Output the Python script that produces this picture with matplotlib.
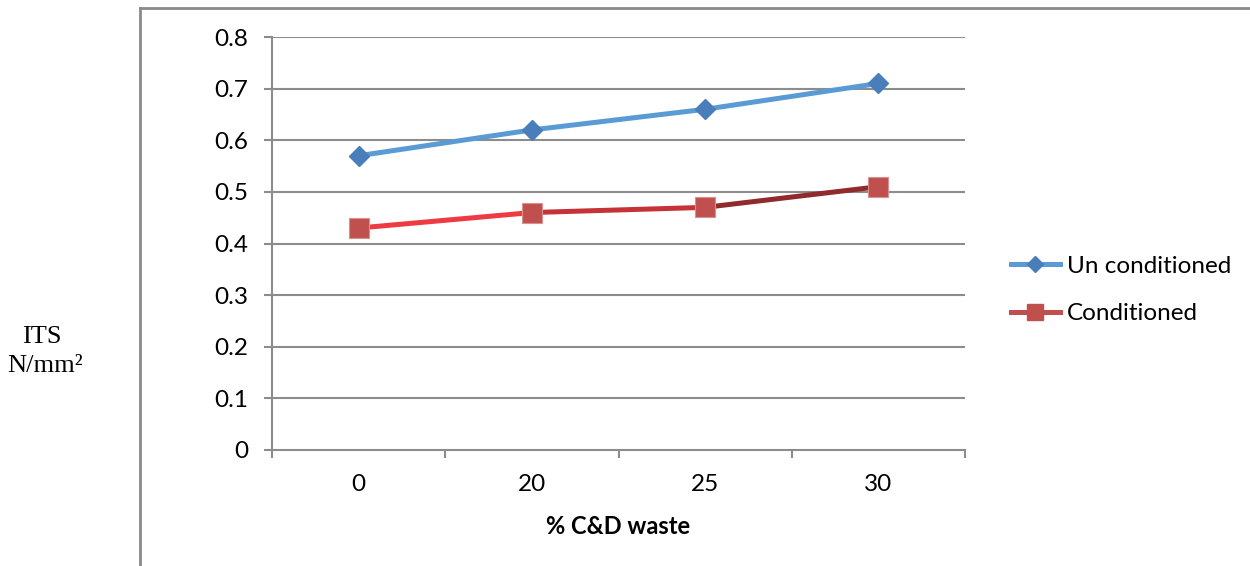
import matplotlib
matplotlib.use("Agg")
import matplotlib.pyplot as plt
from matplotlib.lines import Line2D
from matplotlib.collections import LineCollection
import numpy as np

# Data
categories = ["0", "20", "25", "30"]
unconditioned = [0.57, 0.62, 0.66, 0.71]
conditioned = [0.43, 0.46, 0.47, 0.51]
y_ticks = [0, 0.1, 0.2, 0.3, 0.4, 0.5, 0.6, 0.7, 0.8]
series_names = ["Un conditioned", "Conditioned"]

W, H = 1250, 566
fig = plt.figure(figsize=(W / 100, H / 100), dpi=100)
plt.rcParams["font.family"] = ["Lato", "DejaVu Sans"]

FS = 17.5

ax = fig.add_axes([272 / W, 1 - 450 / H, (965 - 272) / W, (450 - 37) / H])

x = np.arange(len(categories))
grid_c = "#8C8C8C"

# horizontal gridlines
for v in y_ticks[1:]:
    ax.axhline(v, color=grid_c, lw=1.5, zorder=1)

# Un conditioned series
ax.plot(x, unconditioned, color="#5B9BD5", lw=3.6, solid_capstyle="round", zorder=3)
ax.plot(x, unconditioned, ls="none", marker="D", ms=10.5, color="#4A7EBB",
        mec="#4A7EBB", zorder=4)

# Conditioned series: line shades from red to dark red
seg_colors = ["#EE3A42", "#C53237", "#912A2D"]
segs = [[(x[i], conditioned[i]), (x[i + 1], conditioned[i + 1])] for i in range(len(x) - 1)]
lc = LineCollection(segs, colors=seg_colors, linewidths=3.6, capstyle="round", zorder=3)
ax.add_collection(lc)
ax.plot(x, conditioned, ls="none", marker="s", ms=14, color="#C0504D",
        mec="#D9908E", mew=0.8, zorder=4)

ax.set_xlim(-0.5, len(categories) - 0.5)
ax.set_ylim(0, 0.8)

ax.set_yticks(y_ticks)
ax.set_yticklabels(["0" if v == 0 else f"{v:.1f}" for v in y_ticks])
ax.set_xticks(x)
ax.set_xticklabels(categories)
ax.set_xticks(np.arange(len(categories) + 1) - 0.5, minor=True)

ax.tick_params(axis="y", length=6, width=1.5, color=grid_c, pad=11, labelsize=FS,
               labelcolor="black")
ax.tick_params(axis="x", which="major", length=0, pad=17, labelsize=FS, labelcolor="black")
ax.tick_params(axis="x", which="minor", length=6, width=1.5, color=grid_c)

for s in ["top", "right"]:
    ax.spines[s].set_visible(False)
for s in ["left", "bottom"]:
    ax.spines[s].set_color(grid_c)
    ax.spines[s].set_linewidth(1.5)

fig.text(618 / W, 1 - 526 / H, "% C&D waste", ha="center", va="center",
         fontsize=17, fontweight="bold")

# y-axis title
fig.text(42 / W, 1 - 337 / H, "ITS", ha="center", va="center",
         fontsize=19, family="Liberation Serif")
fig.text(45 / W, 1 - 366 / H, "N/mm²", ha="center", va="center",
         fontsize=19, family="Liberation Serif")

# legend
handles = [
    Line2D([], [], color="#5B9BD5", lw=3.6, marker="D", ms=8, mfc="#4A7EBB", mec="#4A7EBB"),
    Line2D([], [], color="#C0504D", lw=3.6, marker="s", ms=11, mfc="#C0504D", mec="#C0504D"),
]
fig.legend(handles, series_names, loc="center left",
           bbox_to_anchor=(999 / W, 1 - 290 / H), frameon=False, fontsize=FS,
           handlelength=2.0, handletextpad=0.3, labelspacing=1.1, borderpad=0)

# outer chart frame
frame_c = "#8A8A8A"
fig.add_artist(Line2D([140 / W, 140 / W], [0, 1 - 8 / H], color=frame_c, lw=2,
                      transform=fig.transFigure))
fig.add_artist(Line2D([140 / W, 1], [1 - 8 / H, 1 - 8 / H], color=frame_c, lw=2,
                      transform=fig.transFigure))

fig.savefig("out.png", dpi=100, facecolor="white")
